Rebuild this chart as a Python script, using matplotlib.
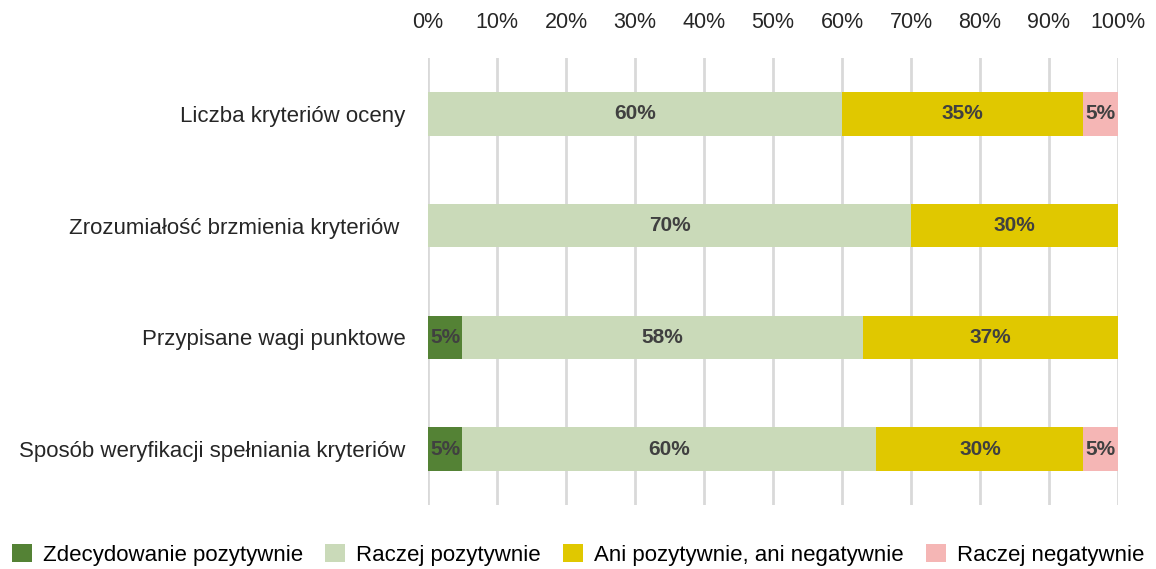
import matplotlib
matplotlib.use("Agg")
import matplotlib.pyplot as plt
import numpy as np

categories = ["Liczba kryteriów oceny", "Zrozumiałość brzmienia kryteriów ",
              "Przypisane wagi punktowe", "Sposób weryfikacji spełniania kryteriów"]
series_names = ["Zdecydowanie pozytywnie", "Raczej pozytywnie",
                "Ani pozytywnie, ani negatywnie", "Raczej negatywnie"]
zdecydowanie = [0, 0, 5, 5]
raczej_poz = [60, 70, 58, 60]
ani = [35, 30, 37, 30]
raczej_neg = [5, 0, 0, 5]
colors = ["#548235", "#CADAB9", "#E0C800", "#F5B6B5"]
ticks = [0, 10, 20, 30, 40, 50, 60, 70, 80, 90, 100]

plt.rcParams['font.family'] = ['Liberation Sans', 'DejaVu Sans']

fig = plt.figure(figsize=(11.56, 5.69), dpi=100)
ax = fig.add_axes([0.3702, 0.1125, 0.5969, 0.7855])

data = [zdecydowanie, raczej_poz, ani, raczej_neg]
y = np.arange(len(categories))
left = np.zeros(len(categories))
for vals, name, c in zip(data, series_names, colors):
    vals = np.array(vals, dtype=float)
    bars = ax.barh(y, vals, left=left, height=0.39, color=c, label=name, zorder=3)
    for b, v, l in zip(bars, vals, left):
        if v > 0:
            ax.text(l + v / 2, b.get_y() + b.get_height() / 2, f"{int(v)}%",
                    ha="center", va="center", fontsize=15, fontweight="bold",
                    color="#404040", zorder=4)
    left += vals

ax.set_xlim(0, 100)
ax.set_ylim(len(categories) - 0.5, -0.5)
ax.set_xticks(ticks)
ax.set_xticklabels([f"{t}%" for t in ticks])
ax.xaxis.tick_top()
ax.tick_params(axis="x", length=0, labelsize=15.5, pad=18, colors="#262626")
ax.set_yticks(y)
ax.set_yticklabels(categories)
ax.tick_params(axis="y", length=0, labelsize=16, pad=16, colors="#262626")
ax.grid(axis="x", color="#D9D9D9", linewidth=2, zorder=0)
for s in ax.spines.values():
    s.set_visible(False)

fig.legend(loc="center", bbox_to_anchor=(0.5, 0.025), ncol=4, frameon=False,
           fontsize=16, handlelength=0.9, handleheight=0.9, handletextpad=0.5,
           columnspacing=1.0)

fig.savefig("out.png", dpi=100)
